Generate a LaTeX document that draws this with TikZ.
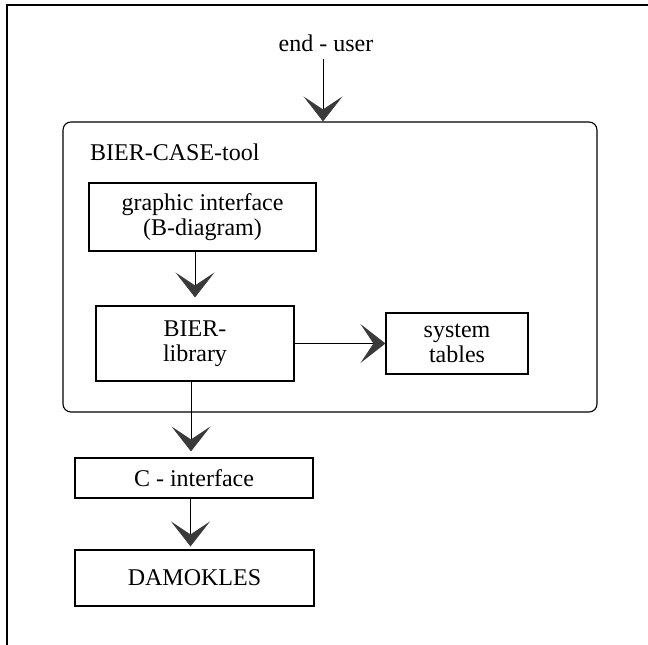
\documentclass[tikz,border=0pt]{standalone}
\usepackage{fontspec}
\setmainfont{Liberation Serif}
\usetikzlibrary{arrows.meta}
\definecolor{tipgray}{HTML}{3A3A3A}
\tikzset{
  box/.style={draw=black, line width=1.1pt, inner sep=0pt, align=center,
    font=\fontsize{24}{25}\selectfont},
  arr/.style={draw=black, line width=0.9pt,
    -{Stealth[length=25pt,width=39pt,inset=13pt,color=tipgray]}},
  lbl/.style={inner sep=0pt, font=\fontsize{24}{25}\selectfont}
}
\begin{document}
\begin{tikzpicture}[x=1pt,y=-1pt]
\useasboundingbox (0,0) rectangle (648,645);
% outer frame (cut off at right and bottom)
\draw[line width=1.5pt] (7,645) -- (7,5) -- (648,5);
% CASE tool container
\node[draw=black, line width=1.1pt, rounded corners=8pt, minimum width=534pt,
  minimum height=290pt, inner sep=0pt] (tool) at (330,267) {};
\node[lbl, anchor=base west] (toollbl) at (90,160) {BIER-CASE-tool};
% end-user
\node[lbl] (user) at (326,43) {end - user};
\coordinate (userbot) at (323,59);
% boxes
\node[box, minimum width=227pt, minimum height=68pt] (gi) at (202.5,217)
  {graphic interface\\(B-diagram)};
\node[box, minimum width=198pt, minimum height=75pt] (bl) at (195,343.5)
  {BIER-\\library};
\node[box, minimum width=142pt, minimum height=61pt] (st) at (457,343.5)
  {system\\tables};
\node[box, minimum width=238pt, minimum height=40pt] (ci) at (194,478)
  {C - interface};
\node[box, minimum width=239pt, minimum height=56pt] (dk) at (194.5,578)
  {DAMOKLES};
% connectors
\draw[arr] (userbot) -- (userbot |- tool.north);
\draw[arr, shorten >=8pt] ([xshift=-7.5pt]gi.south) -- ([xshift=-7.5pt]gi.south |- bl.north);
\draw[arr] (bl.east) -- (st.west);
\draw[arr, shorten >=6pt] ([xshift=-4pt]bl.south) -- ([xshift=-4pt]bl.south |- ci.north);
\draw[arr, shorten >=3pt] ([xshift=-3.5pt]ci.south) -- ([xshift=-3.5pt]ci.south |- dk.north);
\end{tikzpicture}
\end{document}
